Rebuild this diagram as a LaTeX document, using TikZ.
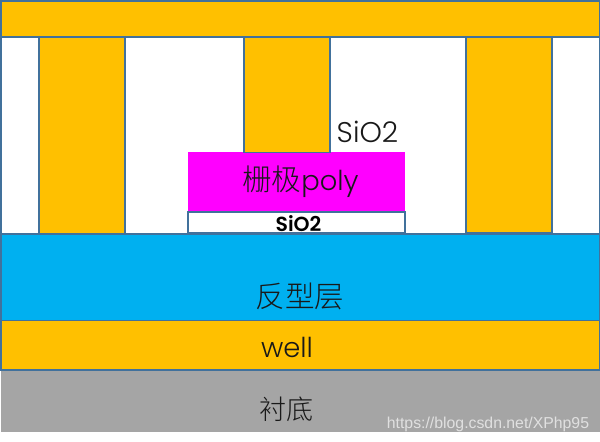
\documentclass[tikz,border=0pt]{standalone}
\usepackage{fontspec}
\setmainfont{Poppins Light}[BoldFont=Poppins SemiBold]
\newfontfamily\cjk{Noto Sans CJK SC Light}
\newfontfamily\wm{Liberation Sans}
\definecolor{gold}{HTML}{FFC000}
\definecolor{edge}{HTML}{41719C}
\definecolor{cyanb}{HTML}{00B0F0}
\definecolor{mag}{HTML}{FF00FF}
\definecolor{sub}{HTML}{A5A5A5}
\tikzset{
  x=0.02cm,y=-0.02cm,
  layer/.style={draw=edge,line width=0.85pt},
  lbl/.style={inner sep=0pt,text=black!90,font=\fontsize{15.6}{18}\selectfont},
  cjklbl/.style={inner sep=0pt,text=black!90,font=\cjk\fontsize{16.8}{18}\selectfont}
}
\begin{document}
\begin{tikzpicture}
\useasboundingbox (0,0) rectangle (600,442);
\fill[white] (0,0) rectangle (600,442);
\draw[layer,fill=white] (1,36) rectangle (600,234);
\draw[layer,fill=gold] (1,1) rectangle (600,37);
\draw[layer,fill=gold] (39,37) rectangle (125,234);
\draw[layer,fill=gold] (244,37) rectangle (330,152.5);
\draw[layer,fill=gold] (466,37) rectangle (552,233);
\fill[mag] (188,152.5) rectangle (405,212);
\draw[layer,fill=gold] (244,100) -- (244,152.5) -- (330,152.5) -- (330,100);
\draw[layer,fill=white] (188,212) rectangle (405,233);
\fill[sub] (1,370) rectangle (600,432);
\draw[layer,fill=cyanb] (1,234) rectangle (600,320.5);
\draw[layer,fill=gold] (1,320.5) rectangle (600,370);
\node[inner sep=0pt,text=black!90,font=\fontsize{16.2}{18}\selectfont] (oxtop) at (367.5,132) {SiO2};
\node[cjklbl] (poly) at (300.5,182) {栅极{\fontspec{Poppins Light}\fontsize{15.6}{18}\selectfont poly}};
\node[inner sep=0pt,text=black,font=\bfseries\fontsize{11.6}{14}\selectfont] (ox) at (298.5,223.5) {SiO2};
\node[cjklbl] (inv) at (300,296) {反型层};
\node[lbl] (well) at (287,347) {well};
\node[cjklbl,font=\cjk\fontsize{15.4}{18}\selectfont] (subs) at (287,409) {衬底};
\node[inner sep=0pt,text=white!88!black,font=\wm\fontsize{9}{11}\selectfont] (mark) at (488,424) {https://blog.csdn.net/XPhp95};
\end{tikzpicture}
\end{document}
